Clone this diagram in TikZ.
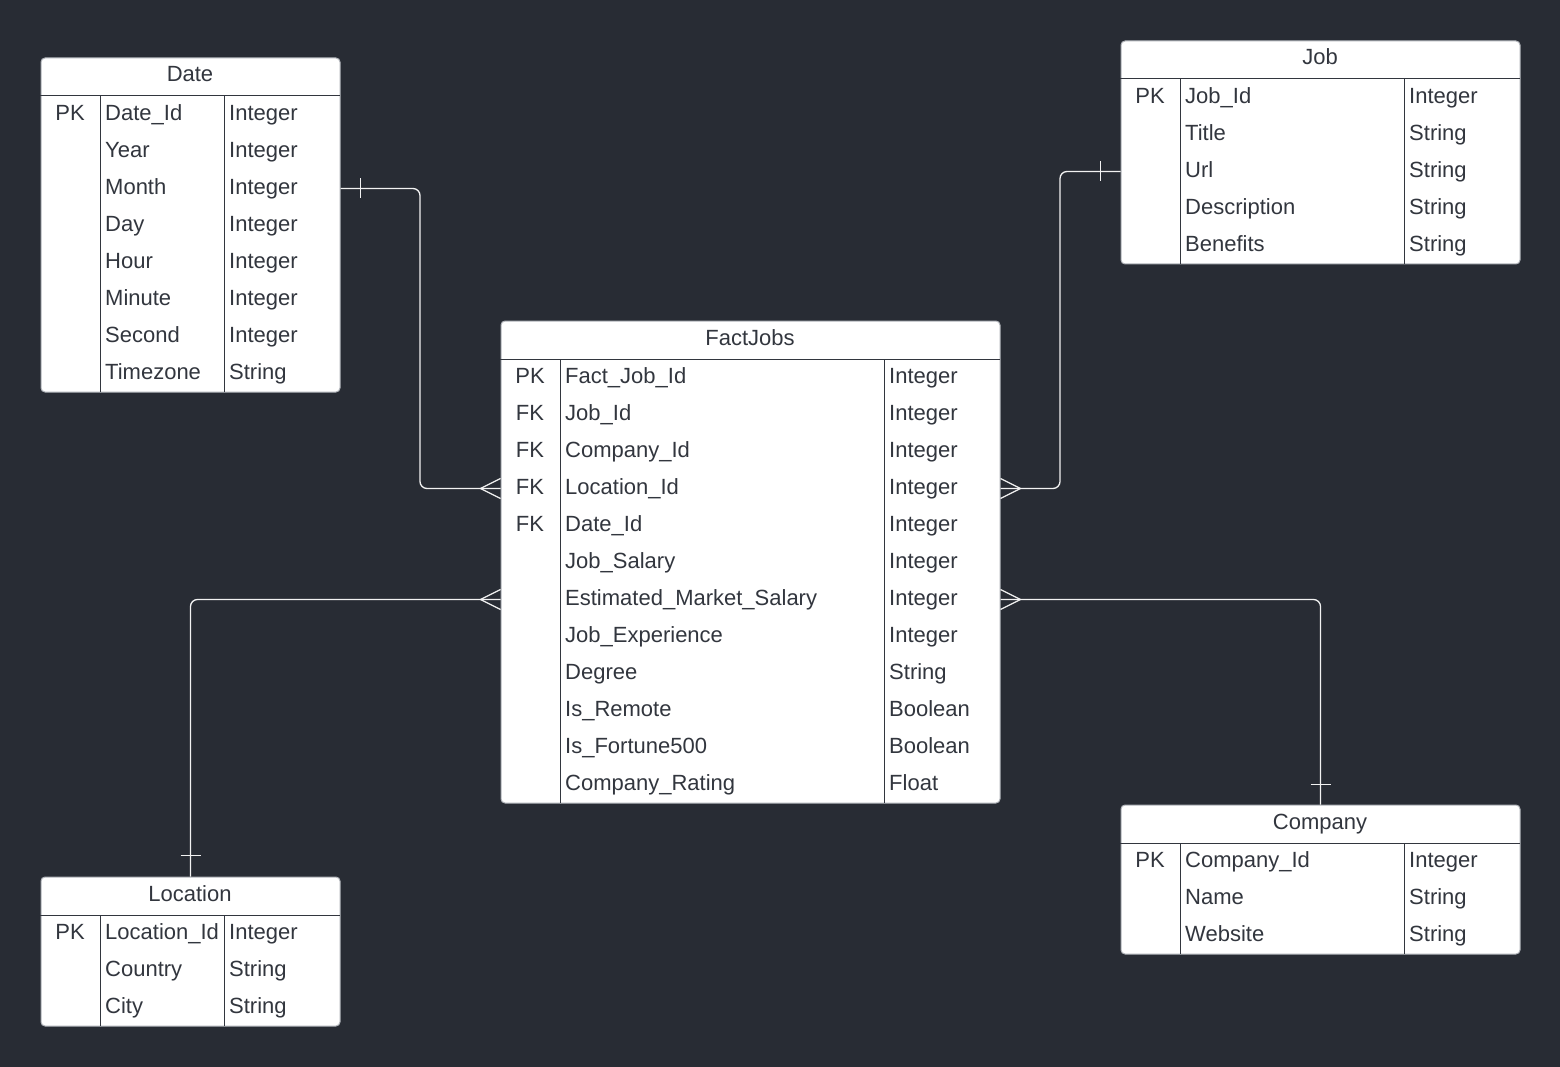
\documentclass[tikz,border=0pt]{standalone}
\usepackage{fontspec}
\setmainfont{Liberation Sans}
\usetikzlibrary{calc}
\definecolor{bg}{RGB}{40,44,52}
\definecolor{txt}{RGB}{50,54,62}
\definecolor{edgegray}{RGB}{175,178,184}
\definecolor{connc}{RGB}{242,242,242}
\tikzset{
 tablebox/.style={draw=edgegray, fill=white, rounded corners=4pt, line width=1pt, rectangle, inner sep=0pt, anchor=north west},
 cell/.style={text=txt, font=\fontsize{22}{26}\selectfont, inner sep=0pt, text height=21pt, text depth=5pt},
 innerline/.style={draw=txt, line width=1pt},
 conn/.style={draw=connc, line width=1.3pt, rounded corners=7pt},
 tickline/.style={draw=connc, line width=1.3pt},
}
% #1 name, #2 left, #3 top, #4 width, #5 nrows, #6 col2 offset, #7 title, #8 rows
\newcommand\ertable[8]{%
 \node[tablebox, minimum width={(#4-1)*1pt}, minimum height={(38+37*#5)*1pt}] (#1) at ({#2+0.5},{#3+0.5}) {};
 \node[cell, anchor=center] (#1-h) at ({#2+#4/2},{#3+17}) {#7};
 \draw[innerline] (#2,{#3+39}) -- ({#2+#4},{#3+39});
 \draw[innerline] ({#2+60},{#3+39}) -- ({#2+60},{#3+39+37*#5});
 \draw[innerline] ({#2+#6},{#3+39}) -- ({#2+#6},{#3+39+37*#5});
 \foreach \k/\n/\t [count=\i from 0] in {#8} {
  \node[cell, anchor=center] (#1-k\i) at ({#2+30},{#3+55.5+37*\i}) {\k};
  \node[cell, anchor=west] (#1-\i) at ({#2+65},{#3+55.5+37*\i}) {\n};
  \node[cell, anchor=west] (#1-t\i) at ({#2+#6+5},{#3+55.5+37*\i}) {\t};
 }
}
\begin{document}
\begin{tikzpicture}[x=1pt,y=-1pt]
\fill[bg] (0,0) rectangle (1560,1067);
\useasboundingbox (0,0) rectangle (1560,1067);

\ertable{date}{40}{57}{300}{8}{184}{Date}{PK/Date\_Id/Integer, {}/Year/Integer, {}/Month/Integer, {}/Day/Integer, {}/Hour/Integer, {}/Minute/Integer, {}/Second/Integer, {}/Timezone/String}
\ertable{job}{1120}{40}{400}{5}{284}{Job}{PK/Job\_Id/Integer, {}/Title/String, {}/Url/String, {}/Description/String, {}/Benefits/String}
\ertable{fact}{500}{320}{500}{12}{384}{FactJobs}{PK/Fact\_Job\_Id/Integer, FK/Job\_Id/Integer, FK/Company\_Id/Integer, FK/Location\_Id/Integer, FK/Date\_Id/Integer, {}/Job\_Salary/Integer, {}/Estimated\_Market\_Salary/Integer, {}/Job\_Experience/Integer, {}/Degree/String, {}/Is\_Remote/Boolean, {}/Is\_Fortune500/Boolean, {}/Company\_Rating/Float}
\ertable{location}{40}{876}{300}{3}{184}{Location}{PK/Location\_Id/Integer, {}/Country/String, {}/City/String}
\ertable{company}{1120}{804}{400}{3}{284}{Company}{PK/Company\_Id/Integer, {}/Name/String, {}/Website/String}

% Date -> FactJobs
\coordinate (dA) at ($(date.east |- date-2)+(0,2)$);
\coordinate (dB) at ($(fact.west |- fact-3)+(0,2)$);
\coordinate (dC) at (420,0);
\draw[conn] (dA) -- (dC |- dA) -- (dC |- dB) -- (dB);
\draw[tickline] ($(dA)+(20,-10)$) -- ($(dA)+(20,10)$);
\draw[tickline] ($(dB)+(0,-10)$) -- ($(dB)+(-20,0)$) -- ($(dB)+(0,10)$);

% Job -> FactJobs
\coordinate (jA) at ($(job.west |- job-2)+(0,2)$);
\coordinate (jB) at ($(fact.east |- fact-3)+(0,2)$);
\coordinate (jC) at (1060,0);
\draw[conn] (jA) -- (jC |- jA) -- (jC |- jB) -- (jB);
\draw[tickline] ($(jA)+(-20,-10)$) -- ($(jA)+(-20,10)$);
\draw[tickline] ($(jB)+(0,-10)$) -- ($(jB)+(20,0)$) -- ($(jB)+(0,10)$);

% FactJobs -> Location
\coordinate (lA) at ($(fact.west |- fact-6)+(0,2)$);
\draw[conn] (lA) -- (location.north |- lA) -- (location.north);
\draw[tickline] ($(location.north)+(-10,-21)$) -- ($(location.north)+(10,-21)$);
\draw[tickline] ($(lA)+(0,-10)$) -- ($(lA)+(-20,0)$) -- ($(lA)+(0,10)$);

% FactJobs -> Company
\coordinate (cA) at ($(fact.east |- fact-6)+(0,2)$);
\draw[conn] (cA) -- (company.north |- cA) -- (company.north);
\draw[tickline] ($(company.north)+(-10,-20)$) -- ($(company.north)+(10,-20)$);
\draw[tickline] ($(cA)+(0,-10)$) -- ($(cA)+(20,0)$) -- ($(cA)+(0,10)$);
\end{tikzpicture}
\end{document}
